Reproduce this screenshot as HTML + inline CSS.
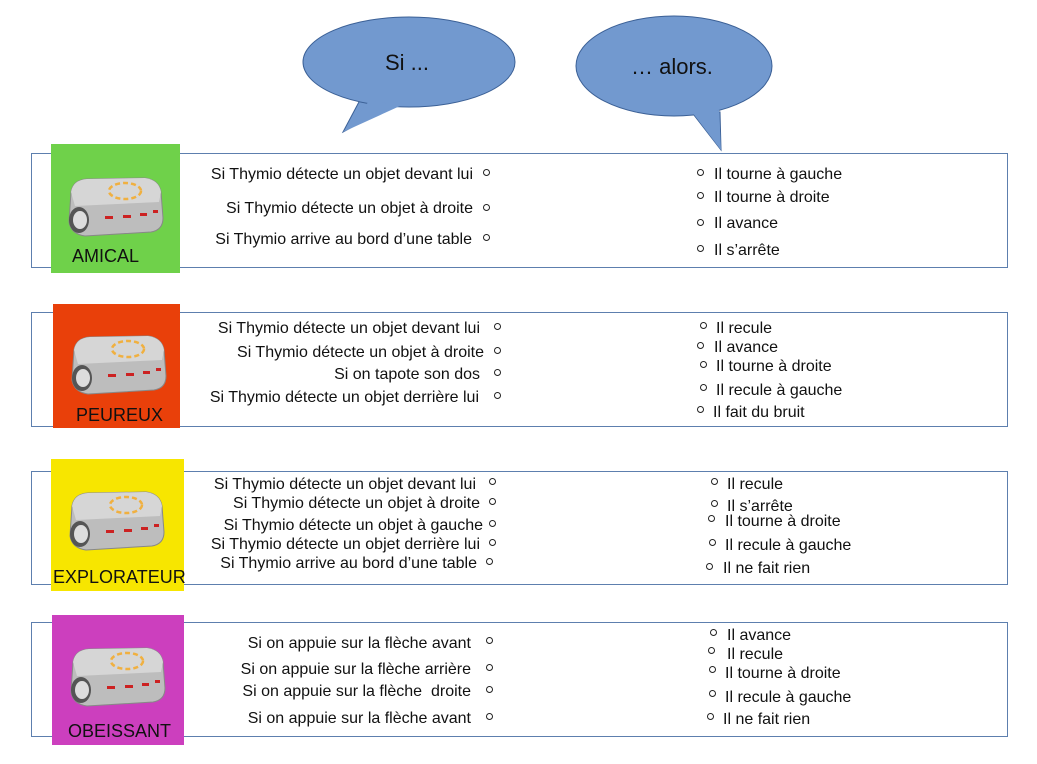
<!DOCTYPE html>
<html><head><meta charset="utf-8"><style>
body{margin:0;width:1037px;height:764px;background:#fff;position:relative;overflow:hidden;font-family:"Liberation Sans",sans-serif;color:#111}
.t{position:absolute;font-size:16px;line-height:18px;white-space:nowrap}
.l{left:0;text-align:right}
.c{position:absolute;width:5px;height:5px;border:1px solid #222;border-radius:50%}
.lab{position:absolute;font-size:18px;line-height:20px;white-space:nowrap}
.box{position:absolute;left:31px;width:975px;border:1px solid #5d7fae}
.sq{position:absolute}
</style></head><body>
<svg width="1037" height="764" style="position:absolute;left:0;top:0">
<defs>
<g id="rb">
<path d="M6 16 Q8 4 22 3 L80 2 Q94 4 96 16 L98 42 Q98 54 86 56 L20 60 Q6 58 4 46 Z" fill="#bdbdbd" stroke="#888"/>
<path d="M6 16 Q8 4 22 3 L80 2 Q94 4 96 16 L94 26 L10 30 Z" fill="#d6d6d6"/>
<ellipse cx="60" cy="15" rx="16" ry="8" fill="none" stroke="#f0b040" stroke-width="2.5" stroke-dasharray="5 3"/>
<ellipse cx="14" cy="44" rx="10" ry="13" fill="#555"/>
<ellipse cx="15" cy="44" rx="7" ry="9" fill="#ddd"/>
<rect x="40" y="40" width="8" height="3" fill="#c22"/><rect x="58" y="39" width="8" height="3" fill="#c22"/><rect x="75" y="37" width="7" height="3" fill="#c22"/><rect x="88" y="34" width="5" height="3" fill="#c22"/>
</g>
</defs>
<path d="M360 100 L343 132 L395 104 Z" fill="#7299cf" stroke="#3b6096"/>
<ellipse cx="409" cy="62" rx="106" ry="45" fill="#7299cf" stroke="#3b6096"/>
<path d="M370 100 L343 132 L400 106" fill="#7299cf"/>
<path d="M690 110 L721 150 L720 112 Z" fill="#7299cf" stroke="#3b6096"/>
<ellipse cx="674" cy="66" rx="98" ry="50" fill="#7299cf" stroke="#3b6096"/>
<path d="M692 112 L721 150 L719 110" fill="#7299cf"/>
</svg>
<div class="t" style="left:385px;top:51px;font-size:22px;line-height:24px">Si ...</div>
<div class="t" style="left:631px;top:55px;font-size:22px;line-height:24px">… alors.</div>

<div class="box" style="top:153px;height:113px"></div>
<div class="box" style="top:312px;height:113px"></div>
<div class="box" style="top:471px;height:112px"></div>
<div class="box" style="top:622px;height:113px"></div>

<div class="sq" style="left:51px;top:144px;width:129px;height:129px;background:#6fd14a"></div>
<div class="sq" style="left:53px;top:304px;width:127px;height:124px;background:#e9400a"></div>
<div class="sq" style="left:51px;top:459px;width:133px;height:132px;background:#f7e600"></div>
<div class="sq" style="left:52px;top:615px;width:132px;height:130px;background:#cc3fbe"></div>
<svg width="1037" height="764" style="position:absolute;left:0;top:0">
<use href="#rb" x="65" y="176"/>
<use href="#rb" x="68" y="334"/>
<use href="#rb" x="66" y="490"/>
<use href="#rb" x="67" y="646"/>
</svg>
<div class="lab" style="left:72px;top:246px">AMICAL</div>
<div class="lab" style="left:76px;top:405px">PEUREUX</div>
<div class="lab" style="left:53px;top:567px">EXPLORATEUR</div>
<div class="lab" style="left:68px;top:721px">OBEISSANT</div>

<!-- row1 -->
<div class="t l" style="width:473px;top:166px">Si Thymio détecte un objet devant lui</div>
<div class="t l" style="width:473px;top:200px">Si Thymio détecte un objet à droite</div>
<div class="t l" style="width:472px;top:231px">Si Thymio arrive au bord d’une table</div>
<div class="c" style="left:483px;top:169px"></div><div class="c" style="left:483px;top:204px"></div><div class="c" style="left:483px;top:234px"></div>
<div class="c" style="left:697px;top:169px"></div><div class="c" style="left:697px;top:192px"></div><div class="c" style="left:697px;top:219px"></div><div class="c" style="left:697px;top:245px"></div>
<div class="t" style="left:714px;top:166px">Il tourne à gauche</div>
<div class="t" style="left:714px;top:189px">Il tourne à droite</div>
<div class="t" style="left:714px;top:215px">Il avance</div>
<div class="t" style="left:714px;top:242px">Il s’arrête</div>
<!-- row2 -->
<div class="t l" style="width:480px;top:320px">Si Thymio détecte un objet devant lui</div>
<div class="t l" style="width:484px;top:344px">Si Thymio détecte un objet à droite</div>
<div class="t l" style="width:480px;top:366px">Si on tapote son dos</div>
<div class="t l" style="width:479px;top:389px">Si Thymio détecte un objet derrière lui</div>
<div class="c" style="left:494px;top:323px"></div><div class="c" style="left:494px;top:347px"></div><div class="c" style="left:494px;top:369px"></div><div class="c" style="left:494px;top:392px"></div>
<div class="c" style="left:700px;top:322px"></div><div class="c" style="left:697px;top:342px"></div><div class="c" style="left:700px;top:361px"></div><div class="c" style="left:700px;top:384px"></div><div class="c" style="left:697px;top:406px"></div>
<div class="t" style="left:716px;top:320px">Il recule</div>
<div class="t" style="left:714px;top:339px">Il avance</div>
<div class="t" style="left:716px;top:358px">Il tourne à droite</div>
<div class="t" style="left:716px;top:382px">Il recule à gauche</div>
<div class="t" style="left:713px;top:404px">Il fait du bruit</div>
<!-- row3 -->
<div class="t l" style="width:476px;top:476px">Si Thymio détecte un objet devant lui</div>
<div class="t l" style="width:480px;top:495px">Si Thymio détecte un objet à droite</div>
<div class="t l" style="width:483px;top:517px">Si Thymio détecte un objet à gauche</div>
<div class="t l" style="width:480px;top:536px">Si Thymio détecte un objet derrière lui</div>
<div class="t l" style="width:477px;top:555px">Si Thymio arrive au bord d’une table</div>
<div class="c" style="left:489px;top:478px"></div><div class="c" style="left:489px;top:498px"></div><div class="c" style="left:489px;top:520px"></div><div class="c" style="left:489px;top:539px"></div><div class="c" style="left:486px;top:558px"></div>
<div class="c" style="left:711px;top:478px"></div><div class="c" style="left:711px;top:500px"></div><div class="c" style="left:708px;top:515px"></div><div class="c" style="left:709px;top:539px"></div><div class="c" style="left:706px;top:563px"></div>
<div class="t" style="left:727px;top:476px">Il recule</div>
<div class="t" style="left:727px;top:498px">Il s’arrête</div>
<div class="t" style="left:725px;top:513px">Il tourne à droite</div>
<div class="t" style="left:725px;top:537px">Il recule à gauche</div>
<div class="t" style="left:723px;top:560px">Il ne fait rien</div>
<!-- row4 -->
<div class="t l" style="width:471px;top:635px">Si on appuie sur la flèche avant</div>
<div class="t l" style="width:471px;top:661px">Si on appuie sur la flèche arrière</div>
<div class="t l" style="width:471px;top:683px">Si on appuie sur la flèche&nbsp; droite</div>
<div class="t l" style="width:471px;top:710px">Si on appuie sur la flèche avant</div>
<div class="c" style="left:486px;top:637px"></div><div class="c" style="left:486px;top:664px"></div><div class="c" style="left:486px;top:686px"></div><div class="c" style="left:486px;top:713px"></div>
<div class="c" style="left:710px;top:629px"></div><div class="c" style="left:708px;top:647px"></div><div class="c" style="left:709px;top:666px"></div><div class="c" style="left:709px;top:690px"></div><div class="c" style="left:707px;top:713px"></div>
<div class="t" style="left:727px;top:627px">Il avance</div>
<div class="t" style="left:727px;top:646px">Il recule</div>
<div class="t" style="left:725px;top:665px">Il tourne à droite</div>
<div class="t" style="left:725px;top:689px">Il recule à gauche</div>
<div class="t" style="left:723px;top:711px">Il ne fait rien</div>
</body></html>
